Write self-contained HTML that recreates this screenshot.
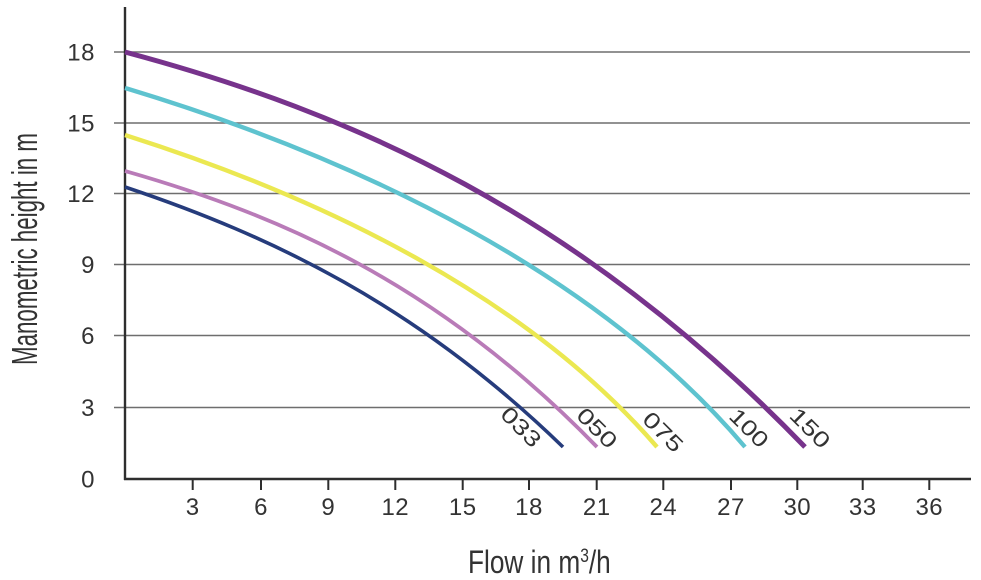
<!DOCTYPE html>
<html>
<head>
<meta charset="utf-8">
<style>
  html,body{margin:0;padding:0;background:#fff;}
  svg{display:block;}
  text{font-family:"Liberation Sans", sans-serif;fill:#333;}
</style>
</head>
<body>
<svg width="981" height="580" viewBox="0 0 981 580" xmlns="http://www.w3.org/2000/svg">
  <rect width="981" height="580" fill="#fff"/>
  <!-- gridlines -->
  <g stroke="#6e6e6e" stroke-width="1.6">
    <line x1="114" y1="52" x2="970" y2="52"/>
    <line x1="114" y1="123" x2="970" y2="123"/>
    <line x1="114" y1="193.5" x2="970" y2="193.5"/>
    <line x1="114" y1="264.5" x2="970" y2="264.5"/>
    <line x1="114" y1="335.5" x2="970" y2="335.5"/>
    <line x1="114" y1="407.5" x2="970" y2="407.5"/>
  </g>
  <!-- axes -->
  <g stroke="#2e2e2e" stroke-width="2.4">
    <line x1="125" y1="7" x2="125" y2="480"/>
    <line x1="124" y1="479" x2="971" y2="479"/>
  </g>
  <!-- x ticks -->
  <g stroke="#2e2e2e" stroke-width="2">
    <line x1="192.7" y1="479" x2="192.7" y2="490"/>
    <line x1="261" y1="479" x2="261" y2="490"/>
    <line x1="328.3" y1="479" x2="328.3" y2="490"/>
    <line x1="395.3" y1="479" x2="395.3" y2="490"/>
    <line x1="462.7" y1="479" x2="462.7" y2="490"/>
    <line x1="529" y1="479" x2="529" y2="490"/>
    <line x1="596.7" y1="479" x2="596.7" y2="490"/>
    <line x1="663.3" y1="479" x2="663.3" y2="490"/>
    <line x1="731" y1="479" x2="731" y2="490"/>
    <line x1="797.3" y1="479" x2="797.3" y2="490"/>
    <line x1="862.7" y1="479" x2="862.7" y2="490"/>
    <line x1="929.3" y1="479" x2="929.3" y2="490"/>
  </g>
  <!-- y tick labels -->
  <g font-size="24" text-anchor="end" letter-spacing="0.5">
    <text x="95" y="60.5">18</text>
    <text x="95" y="131.5">15</text>
    <text x="95" y="202">12</text>
    <text x="95" y="273">9</text>
    <text x="95" y="344">6</text>
    <text x="95" y="416">3</text>
    <text x="95" y="487.5">0</text>
  </g>
  <!-- x tick labels -->
  <g font-size="24" text-anchor="middle" letter-spacing="0.5">
    <text x="192.7" y="515">3</text>
    <text x="261" y="515">6</text>
    <text x="328.3" y="515">9</text>
    <text x="395.3" y="515">12</text>
    <text x="462.7" y="515">15</text>
    <text x="529" y="515">18</text>
    <text x="596.7" y="515">21</text>
    <text x="663.3" y="515">24</text>
    <text x="731" y="515">27</text>
    <text x="797.3" y="515">30</text>
    <text x="862.7" y="515">33</text>
    <text x="929.3" y="515">36</text>
  </g>
  <!-- axis titles -->
  <text transform="translate(37,249) rotate(-90)" font-size="36" text-anchor="middle" textLength="232" lengthAdjust="spacingAndGlyphs">Manometric height in m</text>
  <text transform="translate(468,573) scale(0.82,1)" x="0" y="0" font-size="32">Flow in m<tspan font-size="19" dy="-11">3</tspan><tspan dy="11">/h</tspan></text>

  <!-- curves -->
  <g fill="none" stroke-linecap="butt" stroke-linejoin="round">
    <!-- 033 navy -->
    <path stroke="#263c7c" stroke-width="3.6" d="M125,187 C271,235.75 417,305.2 563,447"/>
    <!-- 050 pink -->
    <path stroke="#b97bb8" stroke-width="3.8" d="M125,171 C282.33,215.86 439.67,284.85 597,447"/>
    <!-- 075 yellow -->
    <path stroke="#ebe851" stroke-width="4.4" d="M125,135 C330,200 530,300 657,447"/>
    <!-- 100 cyan -->
    <path stroke="#5ec3cf" stroke-width="4.4" d="M125,88 C363.7,160 600,276 745,447"/>
    <!-- 150 purple -->
    <path stroke="#77338c" stroke-width="5" d="M125,52 C351.67,112.57 578.33,212.44 805,447"/>
  </g>

  <!-- curve labels -->
  <g font-size="22" text-anchor="middle" dominant-baseline="central">
    <text x="521" y="427" transform="rotate(45,521,427)" textLength="47" lengthAdjust="spacingAndGlyphs">033</text>
    <text x="597" y="428" transform="rotate(45,597,428)" textLength="47" lengthAdjust="spacingAndGlyphs">050</text>
    <text x="663" y="432" transform="rotate(45,663,432)" textLength="47" lengthAdjust="spacingAndGlyphs">075</text>
    <text x="749" y="428" transform="rotate(45,749,428)" textLength="45" lengthAdjust="spacingAndGlyphs">100</text>
    <text x="810" y="428" transform="rotate(45,810,428)" textLength="47" lengthAdjust="spacingAndGlyphs">150</text>
  </g>
</svg>
</body>
</html>
